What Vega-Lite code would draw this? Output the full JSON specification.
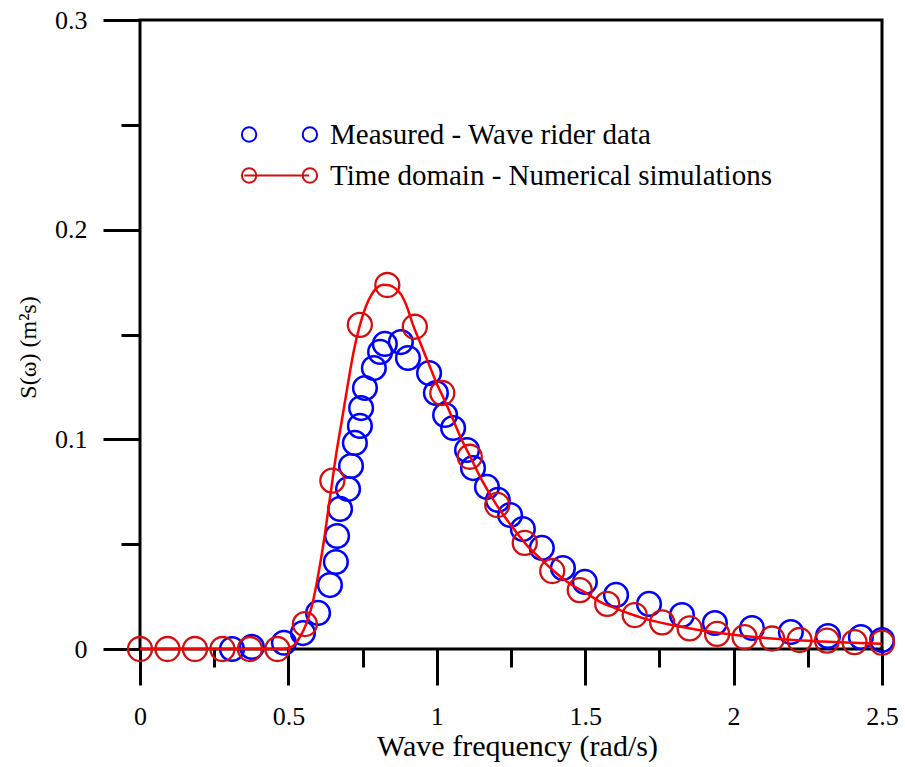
{
  "$schema": "https://vega.github.io/schema/vega-lite/v6.json",
  "width": 742,
  "height": 629,
  "autosize": {"type": "none"},
  "padding": {"left": 140, "top": 20, "right": 23, "bottom": 118},
  "background": "white",
  "config": {
    "view": {"stroke": "black", "strokeWidth": 3},
    "axis": {"domain": false, "grid": false, "tickColor": "black", "tickWidth": 3, "labelFont": "Liberation Serif", "labelFontSize": 26, "labelColor": "black", "titleFont": "Liberation Serif", "titleFontWeight": "normal", "titleColor": "black"},
    "legend": {
      "title": null,
      "orient": "none",
      "legendX": 125,
      "legendY": 100,
      "padding": 0,
      "symbolSize": 256,
      "symbolOffset": 0,
      "labelOffset": 36,
      "labelFont": "Liberation Serif",
      "labelFontSize": 29,
      "labelColor": "black",
      "labelLimit": 0,
      "rowPadding": 11,
      "symbolStrokeWidth": 2,
      "symbolFillColor": "transparent"
    }
  },
  "datasets": {
    "measured": [
      {"x": 0.310, "y": 0.0, "series": "Measured - Wave rider data"},
      {"x": 0.377, "y": 0.001, "series": "Measured - Wave rider data"},
      {"x": 0.485, "y": 0.003, "series": "Measured - Wave rider data"},
      {"x": 0.549, "y": 0.0076, "series": "Measured - Wave rider data"},
      {"x": 0.600, "y": 0.0172, "series": "Measured - Wave rider data"},
      {"x": 0.640, "y": 0.0305, "series": "Measured - Wave rider data"},
      {"x": 0.660, "y": 0.0415, "series": "Measured - Wave rider data"},
      {"x": 0.664, "y": 0.0539, "series": "Measured - Wave rider data"},
      {"x": 0.674, "y": 0.0668, "series": "Measured - Wave rider data"},
      {"x": 0.701, "y": 0.0763, "series": "Measured - Wave rider data"},
      {"x": 0.711, "y": 0.0873, "series": "Measured - Wave rider data"},
      {"x": 0.724, "y": 0.0983, "series": "Measured - Wave rider data"},
      {"x": 0.741, "y": 0.1064, "series": "Measured - Wave rider data"},
      {"x": 0.745, "y": 0.1149, "series": "Measured - Wave rider data"},
      {"x": 0.758, "y": 0.1245, "series": "Measured - Wave rider data"},
      {"x": 0.788, "y": 0.134, "series": "Measured - Wave rider data"},
      {"x": 0.809, "y": 0.1417, "series": "Measured - Wave rider data"},
      {"x": 0.825, "y": 0.1455, "series": "Measured - Wave rider data"},
      {"x": 0.879, "y": 0.1464, "series": "Measured - Wave rider data"},
      {"x": 0.903, "y": 0.1388, "series": "Measured - Wave rider data"},
      {"x": 0.974, "y": 0.1316, "series": "Measured - Wave rider data"},
      {"x": 0.997, "y": 0.1221, "series": "Measured - Wave rider data"},
      {"x": 1.028, "y": 0.1116, "series": "Measured - Wave rider data"},
      {"x": 1.055, "y": 0.1054, "series": "Measured - Wave rider data"},
      {"x": 1.102, "y": 0.0949, "series": "Measured - Wave rider data"},
      {"x": 1.122, "y": 0.0863, "series": "Measured - Wave rider data"},
      {"x": 1.169, "y": 0.0773, "series": "Measured - Wave rider data"},
      {"x": 1.206, "y": 0.0711, "series": "Measured - Wave rider data"},
      {"x": 1.247, "y": 0.0639, "series": "Measured - Wave rider data"},
      {"x": 1.290, "y": 0.0572, "series": "Measured - Wave rider data"},
      {"x": 1.354, "y": 0.0482, "series": "Measured - Wave rider data"},
      {"x": 1.425, "y": 0.0386, "series": "Measured - Wave rider data"},
      {"x": 1.499, "y": 0.032, "series": "Measured - Wave rider data"},
      {"x": 1.604, "y": 0.0258, "series": "Measured - Wave rider data"},
      {"x": 1.715, "y": 0.0215, "series": "Measured - Wave rider data"},
      {"x": 1.826, "y": 0.0162, "series": "Measured - Wave rider data"},
      {"x": 1.937, "y": 0.0124, "series": "Measured - Wave rider data"},
      {"x": 2.062, "y": 0.010, "series": "Measured - Wave rider data"},
      {"x": 2.193, "y": 0.0081, "series": "Measured - Wave rider data"},
      {"x": 2.318, "y": 0.0062, "series": "Measured - Wave rider data"},
      {"x": 2.429, "y": 0.0057, "series": "Measured - Wave rider data"},
      {"x": 2.5, "y": 0.0043, "series": "Measured - Wave rider data"}
    ],
    "simulated": [
      {"x": 0.0, "y": 0.0, "series": "Time domain - Numerical simulations"},
      {"x": 0.0926, "y": 0.0, "series": "Time domain - Numerical simulations"},
      {"x": 0.1852, "y": 0.0, "series": "Time domain - Numerical simulations"},
      {"x": 0.2778, "y": 0.0, "series": "Time domain - Numerical simulations"},
      {"x": 0.3704, "y": 0.0, "series": "Time domain - Numerical simulations"},
      {"x": 0.4630, "y": 0.0, "series": "Time domain - Numerical simulations"},
      {"x": 0.5556, "y": 0.0119, "series": "Time domain - Numerical simulations"},
      {"x": 0.6481, "y": 0.0803, "series": "Time domain - Numerical simulations"},
      {"x": 0.7407, "y": 0.1546, "series": "Time domain - Numerical simulations"},
      {"x": 0.8333, "y": 0.1736, "series": "Time domain - Numerical simulations"},
      {"x": 0.9259, "y": 0.1537, "series": "Time domain - Numerical simulations"},
      {"x": 1.0185, "y": 0.1221, "series": "Time domain - Numerical simulations"},
      {"x": 1.1111, "y": 0.0917, "series": "Time domain - Numerical simulations"},
      {"x": 1.2037, "y": 0.0687, "series": "Time domain - Numerical simulations"},
      {"x": 1.2963, "y": 0.0506, "series": "Time domain - Numerical simulations"},
      {"x": 1.3889, "y": 0.0372, "series": "Time domain - Numerical simulations"},
      {"x": 1.4815, "y": 0.0281, "series": "Time domain - Numerical simulations"},
      {"x": 1.5741, "y": 0.0215, "series": "Time domain - Numerical simulations"},
      {"x": 1.6667, "y": 0.0162, "series": "Time domain - Numerical simulations"},
      {"x": 1.7593, "y": 0.0127, "series": "Time domain - Numerical simulations"},
      {"x": 1.8519, "y": 0.0098, "series": "Time domain - Numerical simulations"},
      {"x": 1.9444, "y": 0.0072, "series": "Time domain - Numerical simulations"},
      {"x": 2.0370, "y": 0.0057, "series": "Time domain - Numerical simulations"},
      {"x": 2.1296, "y": 0.005, "series": "Time domain - Numerical simulations"},
      {"x": 2.2222, "y": 0.0043, "series": "Time domain - Numerical simulations"},
      {"x": 2.3148, "y": 0.004, "series": "Time domain - Numerical simulations"},
      {"x": 2.4074, "y": 0.0033, "series": "Time domain - Numerical simulations"},
      {"x": 2.5, "y": 0.003, "series": "Time domain - Numerical simulations"}
    ],
    "curve": [
      {"x": 0.0, "y": 0.0}, {"x": 0.2, "y": 0.0}, {"x": 0.4, "y": 0.0}, {"x": 0.48, "y": 0.0},
      {"x": 0.5, "y": 0.0005}, {"x": 0.52, "y": 0.002}, {"x": 0.54, "y": 0.006}, {"x": 0.56, "y": 0.012},
      {"x": 0.58, "y": 0.021}, {"x": 0.6, "y": 0.035}, {"x": 0.62, "y": 0.052}, {"x": 0.64, "y": 0.072},
      {"x": 0.66, "y": 0.092}, {"x": 0.68, "y": 0.109}, {"x": 0.7, "y": 0.126}, {"x": 0.72, "y": 0.142},
      {"x": 0.74, "y": 0.154}, {"x": 0.76, "y": 0.163}, {"x": 0.78, "y": 0.169}, {"x": 0.8, "y": 0.1725},
      {"x": 0.82, "y": 0.1737}, {"x": 0.84, "y": 0.1735}, {"x": 0.86, "y": 0.172}, {"x": 0.88, "y": 0.169},
      {"x": 0.9, "y": 0.163}, {"x": 0.92, "y": 0.1545}, {"x": 0.94, "y": 0.1475}, {"x": 0.96, "y": 0.1405},
      {"x": 0.98, "y": 0.1335}, {"x": 1.0, "y": 0.1265}, {"x": 1.02, "y": 0.1205}, {"x": 1.05, "y": 0.111},
      {"x": 1.08, "y": 0.101}, {"x": 1.11, "y": 0.0925}, {"x": 1.15, "y": 0.081}, {"x": 1.2, "y": 0.069},
      {"x": 1.25, "y": 0.059}, {"x": 1.3, "y": 0.05}, {"x": 1.35, "y": 0.043}, {"x": 1.4, "y": 0.0365},
      {"x": 1.45, "y": 0.031}, {"x": 1.5, "y": 0.027}, {"x": 1.55, "y": 0.0225}, {"x": 1.6, "y": 0.0195},
      {"x": 1.65, "y": 0.0168}, {"x": 1.7, "y": 0.0145}, {"x": 1.8, "y": 0.0112}, {"x": 1.9, "y": 0.0087},
      {"x": 2.0, "y": 0.0068}, {"x": 2.1, "y": 0.0054}, {"x": 2.2, "y": 0.0043}, {"x": 2.3, "y": 0.0036},
      {"x": 2.4, "y": 0.003}, {"x": 2.5, "y": 0.0025}
    ]
  },
  "encoding": {
    "x": {
      "field": "x", "type": "quantitative",
      "scale": {"domain": [0, 2.5], "nice": false, "zero": false},
      "axis": {
        "title": "Wave frequency (rad/s)",
        "titleFontSize": 30,
        "titlePadding": 2,
        "titleX": 377,
        "values": [0, 0.25, 0.5, 0.75, 1, 1.25, 1.5, 1.75, 2, 2.25, 2.5],
        "tickSize": {"condition": {"test": "datum.value % 0.5 === 0", "value": 36}, "value": 18},
        "labelExpr": "datum.value % 0.5 === 0 ? format(datum.value, '~g') : ''",
        "labelPadding": 18,
        "labelFlush": false,
        "labelOverlap": false
      }
    },
    "y": {
      "field": "y", "type": "quantitative",
      "scale": {"domain": [0, 0.3], "nice": false, "zero": false},
      "axis": {
        "title": "S(ω) (m²s)",
        "titleFontSize": 24,
        "titlePadding": 14,
        "titleY": 327,
        "values": [0, 0.05, 0.1, 0.15, 0.2, 0.25, 0.3],
        "tickSize": {"condition": {"test": "abs(datum.value*10 - round(datum.value*10)) < 1e-6", "value": 37}, "value": 19},
        "labelExpr": "abs(datum.value*10 - round(datum.value*10)) < 1e-6 ? format(datum.value, '~g') : ''",
        "labelPadding": 16,
        "labelFlush": false,
        "labelOverlap": false
      }
    }
  },
  "layer": [
    {
      "data": {"values": []},
      "mark": {"type": "point", "filled": false, "strokeWidth": 2, "opacity": 1},
      "encoding": {
        "color": {
          "field": "series", "type": "nominal",
          "scale": {"domain": ["Measured - Wave rider data", "Time domain - Numerical simulations"], "range": ["#0000ff", "#d01010"]}
        },
        "shape": {
          "field": "series", "type": "nominal",
          "scale": {
            "domain": ["Measured - Wave rider data", "Time domain - Numerical simulations"],
            "range": [
              "M -4.7,0 A 0.9,0.9 0 1,0 -2.9,0 A 0.9,0.9 0 1,0 -4.7,0 Z M 2.9,0 A 0.9,0.9 0 1,0 4.7,0 A 0.9,0.9 0 1,0 2.9,0 Z",
              "M -4.7,0 A 0.9,0.9 0 1,0 -2.9,0 A 0.9,0.9 0 1,0 -4.7,0 Z M 2.9,0 A 0.9,0.9 0 1,0 4.7,0 A 0.9,0.9 0 1,0 2.9,0 Z M -4.4,0 L 3.7,0"
            ]
          }
        }
      }
    },
    {
      "data": {"name": "measured"},
      "mark": {"type": "point", "filled": false, "size": 560, "strokeWidth": 2.5, "opacity": 1},
      "encoding": {
        "color": {"field": "series", "type": "nominal"}
      }
    },
    {
      "data": {"name": "simulated"},
      "mark": {"type": "point", "filled": false, "size": 576, "strokeWidth": 2.3, "opacity": 1},
      "encoding": {
        "color": {"field": "series", "type": "nominal"}
      }
    },
    {
      "data": {"name": "curve"},
      "mark": {"type": "line", "color": "#ff0000", "strokeWidth": 2.5, "interpolate": "monotone"},
      "encoding": {}
    }
  ]
}
